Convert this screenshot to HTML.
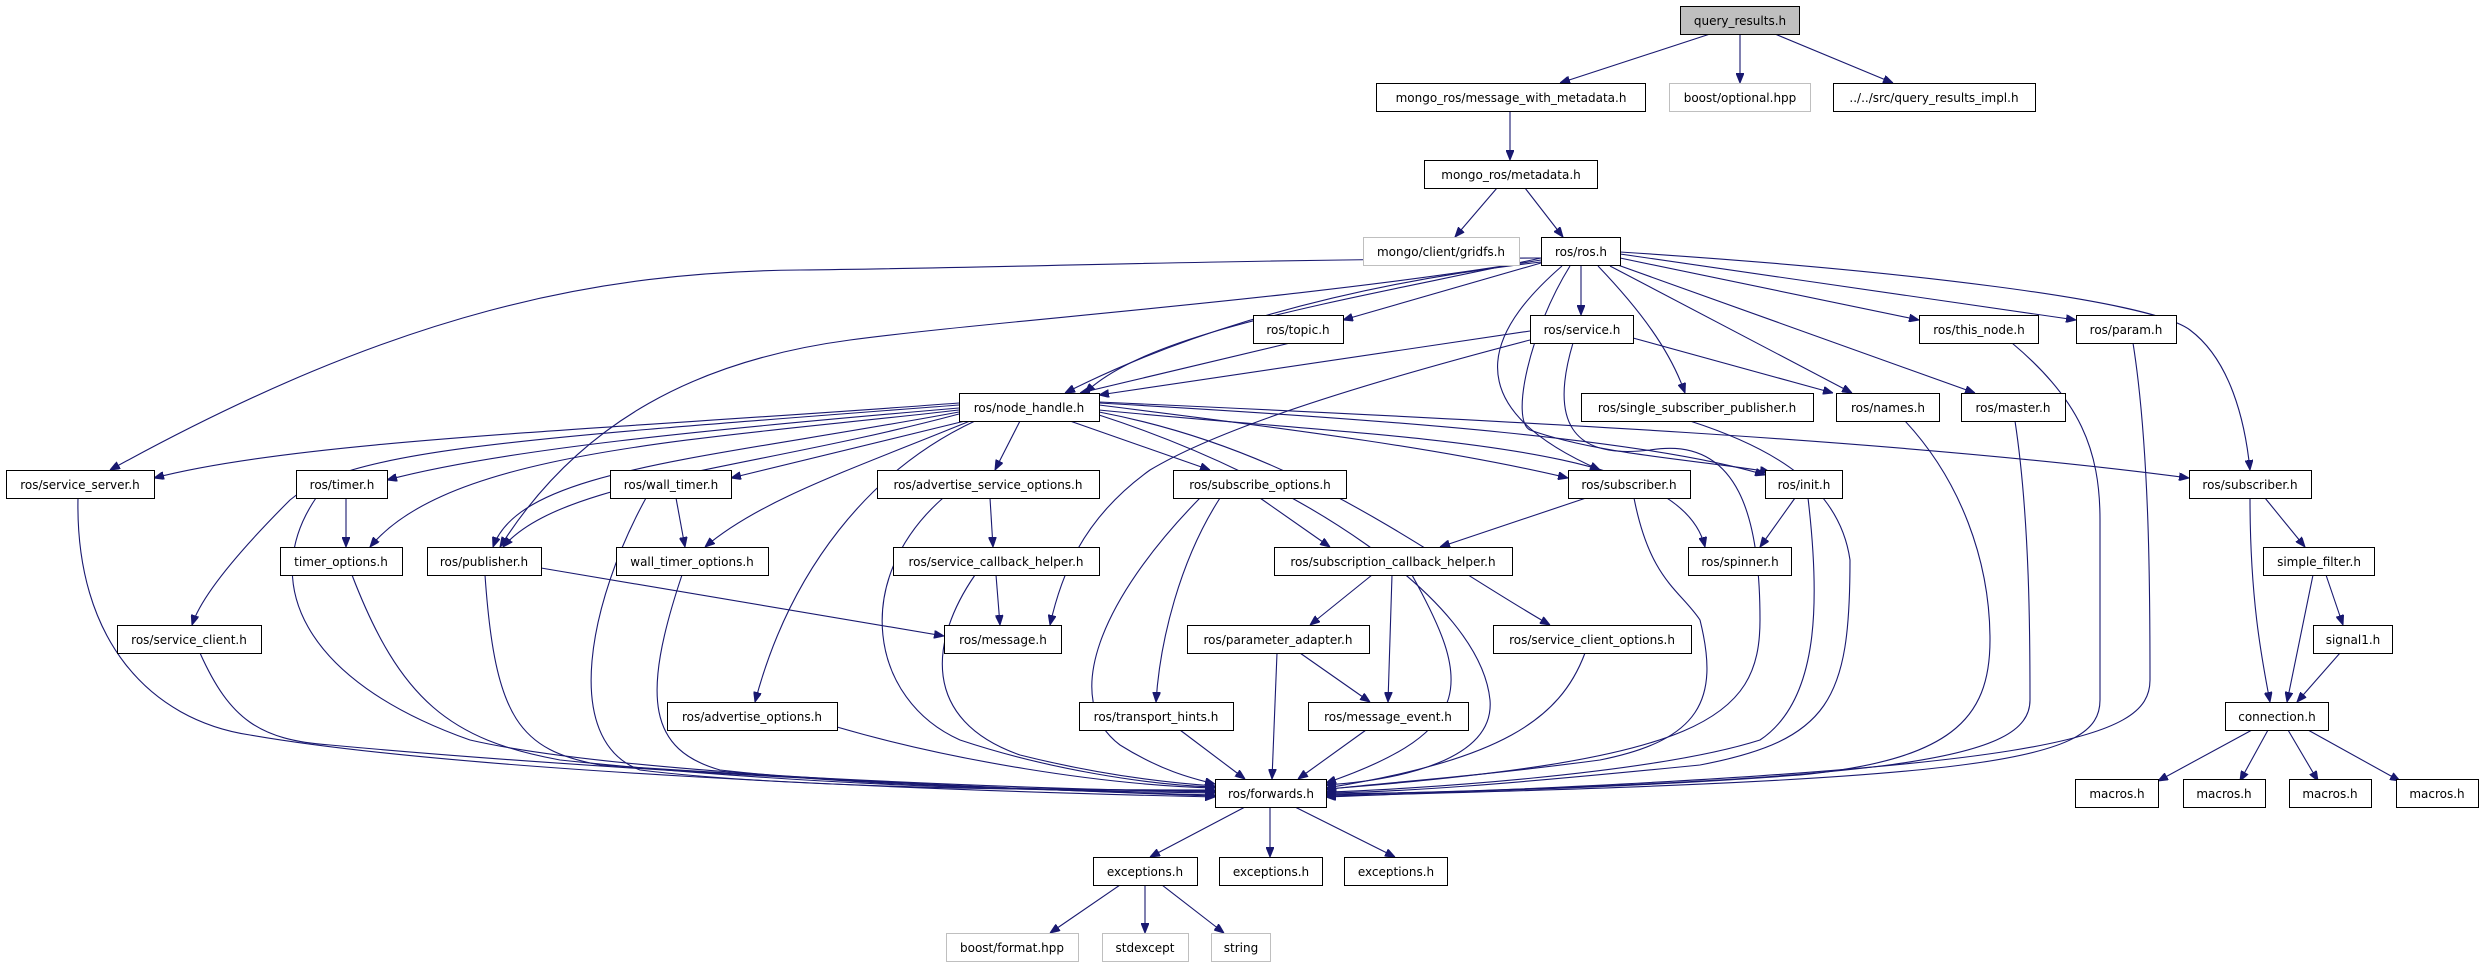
<!DOCTYPE html>
<html><head><meta charset="utf-8"><style>
html,body{margin:0;padding:0;background:#fff;width:2484px;height:968px;overflow:hidden}
svg{display:block}
text{font-family:"DejaVu Sans","Liberation Sans",sans-serif;font-size:12px;fill:#000}
.e{fill:none;stroke:#191970;stroke-width:1.1}
.n{fill:#fff;stroke:#000;stroke-width:1}
.g{fill:#fff;stroke:#bfbfbf;stroke-width:1}
</style></head><body>
<svg width="2484" height="968" viewBox="0 0 2484 968" xmlns="http://www.w3.org/2000/svg">
<defs><marker id="a" markerWidth="10" markerHeight="8" refX="10" refY="4" orient="auto" markerUnits="userSpaceOnUse"><path d="M0,0 L10,4 L0,8z" fill="#191970" stroke="#191970"/></marker></defs>
<g class="e" marker-end="url(#a)">
<path d="M1710,34 L1560,83"/>
<path d="M1740,34 L1740,83"/>
<path d="M1775,34 L1893,83"/>
<path d="M1510,111 L1510,160"/>
<path d="M1497,188 L1455,237"/>
<path d="M1525,188 L1563,237"/>
<path d="M1541,263 L1343,320"/>
<path d="M1581,266 L1581,315"/>
<path d="M1620,258 L1919,320"/>
<path d="M1620,254 L2076,320"/>
<path d="M1620,252 C1900,270 2150,300 2190,330 C2230,360 2245,420 2250,470"/>
<path d="M1598,266 C1640,310 1670,350 1685,393"/>
<path d="M1610,266 L1852,393"/>
<path d="M1615,264 L1975,393"/>
<path d="M1633,338 L1833,393"/>
<path d="M1541,262 C1300,290 1150,350 1065,393"/>
<path d="M1541,258 C1350,300 1150,330 1085,393"/>
<path d="M1290,343 L1080,393"/>
<path d="M1530,331 L1099,395"/>
<path d="M1541,258 C1200,260 1000,268 800,270 C600,272 400,310 110,470"/>
<path d="M1541,260 C1300,300 1000,320 850,340 C700,360 580,420 500,547"/>
<path d="M1562,266 C1500,320 1440,400 1600,470"/>
<path d="M1570,266 C1530,330 1510,420 1530,430 C1600,455 1700,460 1770,472"/>
<path d="M1530,340 C1300,400 1200,440 1150,470 C1080,520 1060,580 1050,625"/>
<!-- node_handle edges -->
<path d="M959,403 C600,430 300,440 154,478"/>
<path d="M959,408 C700,430 500,450 387,480"/>
<path d="M959,410 C700,440 450,450 370,547"/>
<path d="M959,412 C700,460 520,470 493,547"/>
<path d="M959,414 C750,470 560,480 503,547"/>
<path d="M965,421 L731,478"/>
<path d="M970,421 C850,470 760,500 705,547"/>
<path d="M959,405 C500,440 350,450 290,500 C230,560 200,600 192,625"/>
<path d="M975,421 C870,470 790,570 755,702"/>
<path d="M1020,421 L995,470"/>
<path d="M1070,421 L1210,470"/>
<path d="M1099,405 C1300,430 1450,450 1568,478"/>
<path d="M1099,403 C1400,420 1650,440 1765,475"/>
<path d="M1099,410 C1400,440 1680,440 1705,547"/>
<path d="M1099,402 C1500,420 1900,440 2189,478"/>
<path d="M1099,412 C1300,450 1420,550 1550,625"/>
<path d="M1099,415 C1300,480 1480,600 1490,700 C1495,760 1400,780 1326,785"/>
<!-- mid -->
<path d="M346,498 L346,547"/>
<path d="M541,568 L944,636"/>
<path d="M996,575 L1000,625"/>
<path d="M990,498 L993,547"/>
<path d="M676,498 L685,547"/>
<path d="M1260,498 L1330,547"/>
<path d="M1220,498 C1180,560 1160,640 1156,702"/>
<path d="M1586,498 L1440,547"/>
<path d="M1372,575 L1310,625"/>
<path d="M1392,575 L1388,702"/>
<path d="M1300,653 L1370,702"/>
<path d="M1795,498 L1760,547"/>
<path d="M2265,498 L2305,547"/>
<path d="M2250,498 C2250,600 2262,660 2270,702"/>
<path d="M2313,575 L2287,702"/>
<path d="M2326,575 L2343,625"/>
<path d="M2340,653 L2297,702"/>
<path d="M2252,730 L2158,781"/>
<path d="M2268,730 L2240,781"/>
<path d="M2288,730 L2318,781"/>
<path d="M2308,730 L2400,781"/>
<!-- to forwards left -->
<path d="M78,498 C75,640 150,720 250,735 C450,770 900,790 1215,797"/>
<path d="M316,498 C260,580 300,680 470,740 C600,770 900,785 1215,796"/>
<path d="M200,653 C230,720 260,740 330,745 C600,770 1000,790 1215,795"/>
<path d="M352,575 C400,700 450,740 560,760 C800,785 1000,790 1215,793"/>
<path d="M485,575 C495,720 520,750 600,765 C900,785 1100,790 1215,792"/>
<path d="M646,498 C590,600 560,740 640,770 C800,790 1100,790 1215,791"/>
<path d="M682,575 C640,700 650,750 720,770 C900,790 1100,790 1215,790"/>
<path d="M837,727 C950,760 1100,785 1215,788"/>
<path d="M943,498 C850,580 870,700 960,740 C1050,770 1150,785 1215,787"/>
<path d="M975,575 C930,640 920,720 1020,755 C1100,775 1170,783 1215,786"/>
<path d="M1200,498 C1100,600 1060,700 1120,745 C1160,770 1190,778 1215,784"/>
<path d="M1180,730 L1245,779"/>
<path d="M1277,653 L1272,779"/>
<path d="M1366,730 L1298,779"/>
<!-- to forwards right -->
<path d="M1412,575 C1470,680 1480,730 1326,783"/>
<path d="M1585,653 C1560,720 1500,760 1326,788"/>
<path d="M1634,498 C1650,580 1680,590 1700,620 C1720,700 1700,740 1600,760 C1450,780 1350,785 1326,790"/>
<path d="M1573,343 C1550,420 1570,460 1650,450 C1740,435 1760,520 1760,620 C1760,720 1700,760 1326,789"/>
<path d="M1808,498 C1820,600 1820,700 1760,740 C1650,775 1400,790 1326,792"/>
<path d="M1690,421 C1780,450 1840,490 1850,560 C1850,700 1830,740 1700,765 C1500,785 1400,792 1326,793"/>
<path d="M1905,421 C1960,480 1990,560 1990,640 C1990,720 1950,760 1800,775 C1600,790 1400,793 1326,794"/>
<path d="M2015,421 C2030,520 2030,640 2030,700 C2030,760 1900,780 1326,795"/>
<path d="M2012,343 C2080,400 2100,450 2100,520 L2100,700 C2100,760 2000,780 1326,796"/>
<path d="M2133,343 C2150,450 2150,600 2150,680 C2150,740 2050,770 1326,797"/>
<path d="M1245,807 L1150,857"/>
<path d="M1270,807 L1270,857"/>
<path d="M1295,807 L1395,857"/>
<path d="M1120,885 L1050,933"/>
<path d="M1145,885 L1145,933"/>
<path d="M1162,885 L1224,933"/>
</g>
<g>
<rect x="1680.5" y="6.5" width="119" height="28" fill="#bfbfbf" stroke="#000"/><text x="1740" y="25" text-anchor="middle">query_results.h</text>
<rect class="n" x="1376.5" y="83.5" width="269" height="28"/><text x="1511" y="102" text-anchor="middle">mongo_ros/message_with_metadata.h</text>
<rect class="g" x="1669.5" y="83.5" width="141" height="28"/><text x="1740" y="102" text-anchor="middle">boost/optional.hpp</text>
<rect class="n" x="1833.5" y="83.5" width="202" height="28"/><text x="1934" y="102" text-anchor="middle">../../src/query_results_impl.h</text>
<rect class="n" x="1424.5" y="160.5" width="173" height="28"/><text x="1511" y="179" text-anchor="middle">mongo_ros/metadata.h</text>
<rect class="g" x="1363.5" y="237.5" width="156" height="28"/><text x="1441" y="256" text-anchor="middle">mongo/client/gridfs.h</text>
<rect class="n" x="1541.5" y="237.5" width="79" height="28"/><text x="1581" y="256" text-anchor="middle">ros/ros.h</text>
<rect class="n" x="1253.5" y="315.5" width="90" height="28"/><text x="1298" y="334" text-anchor="middle">ros/topic.h</text>
<rect class="n" x="1530.5" y="315.5" width="103" height="28"/><text x="1582" y="334" text-anchor="middle">ros/service.h</text>
<rect class="n" x="1919.5" y="315.5" width="119" height="28"/><text x="1979" y="334" text-anchor="middle">ros/this_node.h</text>
<rect class="n" x="2076.5" y="315.5" width="100" height="28"/><text x="2126" y="334" text-anchor="middle">ros/param.h</text>
<rect class="n" x="959.5" y="393.5" width="140" height="28"/><text x="1029" y="412" text-anchor="middle">ros/node_handle.h</text>
<rect class="n" x="1581.5" y="393.5" width="232" height="28"/><text x="1697" y="412" text-anchor="middle">ros/single_subscriber_publisher.h</text>
<rect class="n" x="1836.5" y="393.5" width="103" height="28"/><text x="1888" y="412" text-anchor="middle">ros/names.h</text>
<rect class="n" x="1961.5" y="393.5" width="104" height="28"/><text x="2013" y="412" text-anchor="middle">ros/master.h</text>
<rect class="n" x="6.5" y="470.5" width="148" height="28"/><text x="80" y="489" text-anchor="middle">ros/service_server.h</text>
<rect class="n" x="296.5" y="470.5" width="91" height="28"/><text x="342" y="489" text-anchor="middle">ros/timer.h</text>
<rect class="n" x="610.5" y="470.5" width="121" height="28"/><text x="671" y="489" text-anchor="middle">ros/wall_timer.h</text>
<rect class="n" x="877.5" y="470.5" width="222" height="28"/><text x="988" y="489" text-anchor="middle">ros/advertise_service_options.h</text>
<rect class="n" x="1173.5" y="470.5" width="173" height="28"/><text x="1260" y="489" text-anchor="middle">ros/subscribe_options.h</text>
<rect class="n" x="1568.5" y="470.5" width="122" height="28"/><text x="1629" y="489" text-anchor="middle">ros/subscriber.h</text>
<rect class="n" x="1765.5" y="470.5" width="77" height="28"/><text x="1804" y="489" text-anchor="middle">ros/init.h</text>
<rect class="n" x="2189.5" y="470.5" width="122" height="28"/><text x="2250" y="489" text-anchor="middle">ros/subscriber.h</text>
<rect class="n" x="280.5" y="547.5" width="122" height="28"/><text x="341" y="566" text-anchor="middle">timer_options.h</text>
<rect class="n" x="427.5" y="547.5" width="114" height="28"/><text x="484" y="566" text-anchor="middle">ros/publisher.h</text>
<rect class="n" x="616.5" y="547.5" width="152" height="28"/><text x="692" y="566" text-anchor="middle">wall_timer_options.h</text>
<rect class="n" x="893.5" y="547.5" width="206" height="28"/><text x="996" y="566" text-anchor="middle">ros/service_callback_helper.h</text>
<rect class="n" x="1274.5" y="547.5" width="238" height="28"/><text x="1393" y="566" text-anchor="middle">ros/subscription_callback_helper.h</text>
<rect class="n" x="1688.5" y="547.5" width="103" height="28"/><text x="1740" y="566" text-anchor="middle">ros/spinner.h</text>
<rect class="n" x="2263.5" y="547.5" width="111" height="28"/><text x="2319" y="566" text-anchor="middle">simple_filter.h</text>
<rect class="n" x="117.5" y="625.5" width="144" height="28"/><text x="189" y="644" text-anchor="middle">ros/service_client.h</text>
<rect class="n" x="944.5" y="625.5" width="117" height="28"/><text x="1003" y="644" text-anchor="middle">ros/message.h</text>
<rect class="n" x="1187.5" y="625.5" width="182" height="28"/><text x="1278" y="644" text-anchor="middle">ros/parameter_adapter.h</text>
<rect class="n" x="1493.5" y="625.5" width="198" height="28"/><text x="1592" y="644" text-anchor="middle">ros/service_client_options.h</text>
<rect class="n" x="2313.5" y="625.5" width="79" height="28"/><text x="2353" y="644" text-anchor="middle">signal1.h</text>
<rect class="n" x="667.5" y="702.5" width="170" height="28"/><text x="752" y="721" text-anchor="middle">ros/advertise_options.h</text>
<rect class="n" x="1079.5" y="702.5" width="154" height="28"/><text x="1156" y="721" text-anchor="middle">ros/transport_hints.h</text>
<rect class="n" x="1308.5" y="702.5" width="160" height="28"/><text x="1388" y="721" text-anchor="middle">ros/message_event.h</text>
<rect class="n" x="2225.5" y="702.5" width="103" height="28"/><text x="2277" y="721" text-anchor="middle">connection.h</text>
<rect class="n" x="1215.5" y="779.5" width="111" height="28"/><text x="1271" y="798" text-anchor="middle">ros/forwards.h</text>
<rect class="n" x="2075.5" y="779.5" width="83" height="28"/><text x="2117" y="798" text-anchor="middle">macros.h</text>
<rect class="n" x="2183.5" y="779.5" width="82" height="28"/><text x="2224" y="798" text-anchor="middle">macros.h</text>
<rect class="n" x="2289.5" y="779.5" width="82" height="28"/><text x="2330" y="798" text-anchor="middle">macros.h</text>
<rect class="n" x="2396.5" y="779.5" width="82" height="28"/><text x="2437" y="798" text-anchor="middle">macros.h</text>
<rect class="n" x="1093.5" y="857.5" width="104" height="28"/><text x="1145" y="876" text-anchor="middle">exceptions.h</text>
<rect class="n" x="1219.5" y="857.5" width="103" height="28"/><text x="1271" y="876" text-anchor="middle">exceptions.h</text>
<rect class="n" x="1344.5" y="857.5" width="103" height="28"/><text x="1396" y="876" text-anchor="middle">exceptions.h</text>
<rect class="g" x="946.5" y="933.5" width="132" height="28"/><text x="1012" y="952" text-anchor="middle">boost/format.hpp</text>
<rect class="g" x="1102.5" y="933.5" width="86" height="28"/><text x="1145" y="952" text-anchor="middle">stdexcept</text>
<rect class="g" x="1211.5" y="933.5" width="59" height="28"/><text x="1241" y="952" text-anchor="middle">string</text>
</g>
</svg>
</body></html>
